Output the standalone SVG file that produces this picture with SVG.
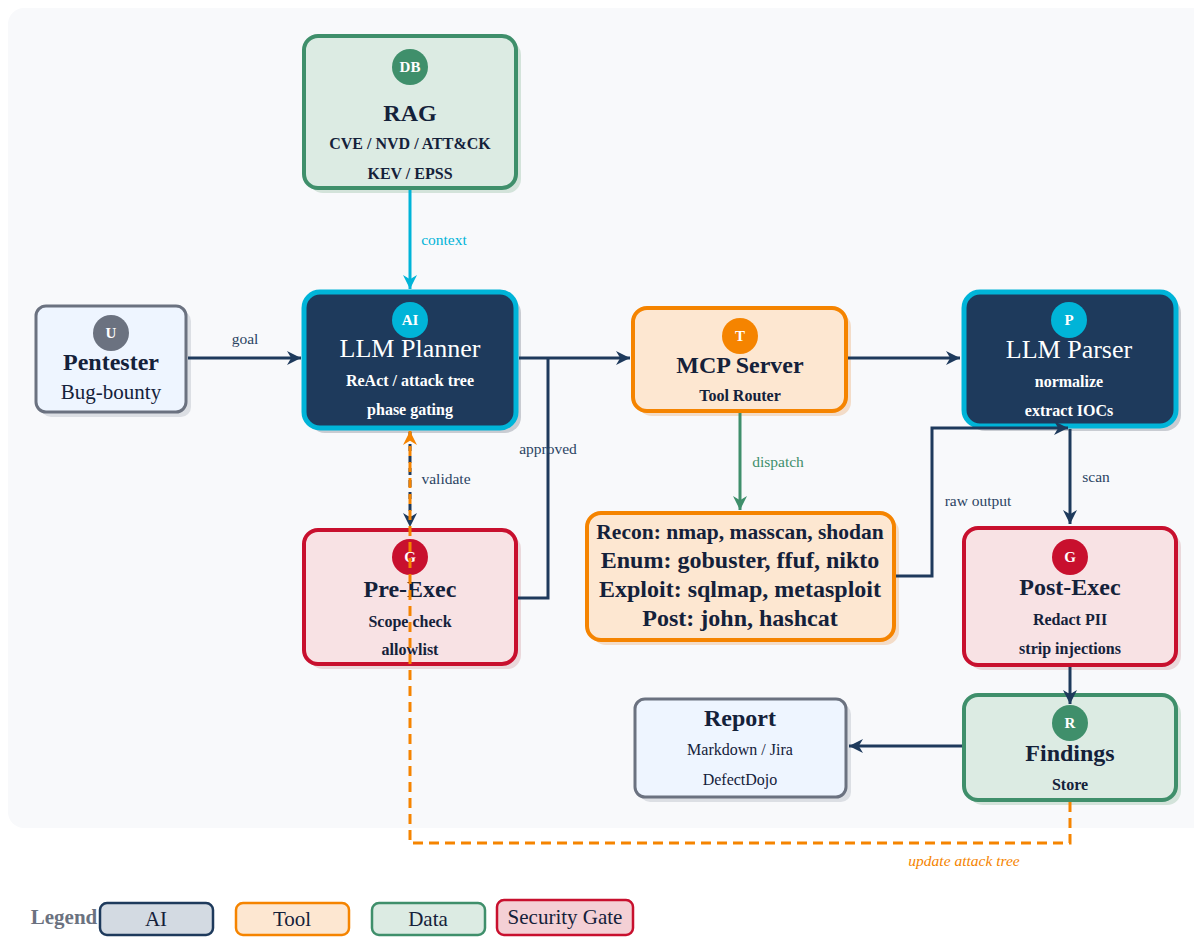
<svg xmlns="http://www.w3.org/2000/svg" width="1194" height="938" viewBox="0 0 1194 938">
<style>
text{font-family:"Liberation Serif","DejaVu Serif",serif;text-anchor:middle}
.t{font-size:24px;font-weight:bold;fill:#14213a}
.tw{font-size:26px;fill:#ffffff}
.s{font-size:16px;font-weight:bold;fill:#14213a}
.sw{font-size:16px;font-weight:bold;fill:#ffffff}
.r{font-size:16px;fill:#14213a}
.b{font-size:15px;font-weight:bold;fill:#ffffff}
.lbl{font-size:15.5px;fill:#2b4463}
.tool{font-size:24px;font-weight:bold;fill:#14213a}
.lg{font-size:21px;fill:#14213a}
.c{fill:none;stroke-width:3}
.navy{stroke:#1e3a5c}
</style>
<defs>
<marker id="an" viewBox="0 0 10 10" refX="10" refY="5" markerWidth="14" markerHeight="14" markerUnits="userSpaceOnUse" orient="auto"><path d="M0,0 L10,5 L0,10 L3,5 z" fill="#1e3a5c"/></marker>
<marker id="ac" viewBox="0 0 10 10" refX="10" refY="5" markerWidth="14" markerHeight="14" markerUnits="userSpaceOnUse" orient="auto"><path d="M0,0 L10,5 L0,10 L3,5 z" fill="#00b4d8"/></marker>
<marker id="ag" viewBox="0 0 10 10" refX="10" refY="5" markerWidth="14" markerHeight="14" markerUnits="userSpaceOnUse" orient="auto"><path d="M0,0 L10,5 L0,10 L3,5 z" fill="#3f8f6b"/></marker>
<marker id="ao" viewBox="0 0 10 10" refX="10" refY="5" markerWidth="14" markerHeight="14" markerUnits="userSpaceOnUse" orient="auto"><path d="M0,0 L10,5 L0,10 L3,5 z" fill="#f58400"/></marker>
</defs>
<rect x="0" y="0" width="1194" height="938" fill="#ffffff"/>
<rect x="8" y="8" width="1200" height="820" rx="16" fill="#f8f9fb"/>

<g id="rag">
<rect x="309" y="41" width="212" height="152" rx="14" fill="#d3e3da"/>
<rect x="304" y="36" width="212" height="152" rx="14" fill="#dcebe3" stroke="#3f8f6b" stroke-width="4"/>
<circle cx="410" cy="67" r="18" fill="#3f8f6b"/>
<text x="410" y="72" class="b">DB</text>
<text x="410" y="121" class="t">RAG</text>
<text x="410" y="149" class="s">CVE / NVD / ATT&amp;CK</text>
<text x="410" y="179" class="s">KEV / EPSS</text>
</g>

<g id="pentester">
<rect x="41" y="311" width="150" height="106" rx="10" fill="#dcdfe4"/>
<rect x="36" y="306" width="150" height="106" rx="10" fill="#eef5ff" stroke="#6b7280" stroke-width="3"/>
<circle cx="111" cy="333" r="18" fill="#6b7280"/>
<text x="111" y="338" class="b">U</text>
<text x="111" y="370" class="t">Pentester</text>
<text x="111" y="399" style="font-size:21px;fill:#14213a">Bug-bounty</text>
</g>

<g id="planner">
<rect x="309" y="297" width="212" height="136" rx="16" fill="#c9ccd2"/>
<rect x="304" y="292" width="212" height="136" rx="16" fill="#1e3a5c" stroke="#00b4d8" stroke-width="5"/>
<circle cx="410" cy="320" r="18" fill="#00b4d8"/>
<text x="410" y="325" class="b">AI</text>
<text x="410" y="357" class="tw">LLM Planner</text>
<text x="410" y="386" class="sw">ReAct / attack tree</text>
<text x="410" y="415" class="sw">phase gating</text>
</g>

<g id="mcp">
<rect x="638" y="313" width="213" height="103" rx="14" fill="#f3dcc8"/>
<rect x="633" y="308" width="213" height="103" rx="14" fill="#fde7d1" stroke="#f58400" stroke-width="4"/>
<circle cx="740" cy="336" r="18" fill="#f58400"/>
<text x="740" y="341" class="b">T</text>
<text x="740" y="373" class="t">MCP Server</text>
<text x="740" y="401" class="s">Tool Router</text>
</g>

<g id="parser">
<rect x="969" y="297" width="212" height="134" rx="16" fill="#c9ccd2"/>
<rect x="964" y="292" width="212" height="134" rx="16" fill="#1e3a5c" stroke="#00b4d8" stroke-width="5"/>
<circle cx="1069" cy="320" r="18" fill="#00b4d8"/>
<text x="1069" y="325" class="b">P</text>
<text x="1069" y="358" class="tw">LLM Parser</text>
<text x="1069" y="387" class="sw">normalize</text>
<text x="1069" y="416" class="sw">extract IOCs</text>
</g>

<g id="tools">
<rect x="592" y="518" width="307" height="127" rx="14" fill="#f3dcc8"/>
<rect x="587" y="513" width="307" height="127" rx="14" fill="#fde7d1" stroke="#f58400" stroke-width="4"/>
<text x="740" y="539" class="tool" style="font-size:21.5px">Recon: nmap, masscan, shodan</text>
<text x="740" y="568" class="tool">Enum: gobuster, ffuf, nikto</text>
<text x="740" y="597" class="tool">Exploit: sqlmap, metasploit</text>
<text x="740" y="626" class="tool">Post: john, hashcat</text>
</g>

<g id="preexec">
<rect x="309" y="535" width="212" height="134" rx="14" fill="#ead8db"/>
<rect x="304" y="530" width="212" height="134" rx="14" fill="#f8e2e4" stroke="#c8102e" stroke-width="4"/>
<circle cx="410" cy="557" r="18" fill="#c8102e"/>
<text x="410" y="562" class="b">G</text>
<text x="410" y="597" class="t">Pre-Exec</text>
<text x="410" y="627" class="s">Scope check</text>
<text x="410" y="655" class="s">allowlist</text>
</g>

<g id="postexec">
<rect x="969" y="533" width="212" height="137" rx="14" fill="#ead8db"/>
<rect x="964" y="528" width="212" height="137" rx="14" fill="#f8e2e4" stroke="#c8102e" stroke-width="4"/>
<circle cx="1070" cy="557" r="18" fill="#c8102e"/>
<text x="1070" y="562" class="b">G</text>
<text x="1070" y="595" class="t">Post-Exec</text>
<text x="1070" y="625" class="s">Redact PII</text>
<text x="1070" y="654" class="s">strip injections</text>
</g>

<g id="findings">
<rect x="969" y="700" width="212" height="105" rx="14" fill="#d3e3da"/>
<rect x="964" y="695" width="212" height="105" rx="14" fill="#dcebe3" stroke="#3f8f6b" stroke-width="4"/>
<circle cx="1070" cy="723" r="18" fill="#3f8f6b"/>
<text x="1070" y="728" class="b">R</text>
<text x="1070" y="761" class="t">Findings</text>
<text x="1070" y="790" class="s">Store</text>
</g>

<g id="report">
<rect x="640" y="704" width="211" height="98" rx="10" fill="#dcdfe4"/>
<rect x="635" y="699" width="211" height="98" rx="10" fill="#eef5ff" stroke="#6b7280" stroke-width="3"/>
<text x="740" y="726" class="t">Report</text>
<text x="740" y="755" class="r">Markdown / Jira</text>
<text x="740" y="785" class="r">DefectDojo</text>
</g>

<g id="connectors">
<path d="M410,190 L410,289" class="c" stroke="#00b4d8" marker-end="url(#ac)"/>
<text x="444" y="245" style="font-size:15.5px;fill:#00b4d8">context</text>
<path d="M188,358 L301,358" class="c navy" marker-end="url(#an)"/>
<text x="245" y="344" class="lbl">goal</text>
<path d="M519,358 L630,358" class="c navy" marker-end="url(#an)"/>
<path d="M518,598 L548,598 L548,358" class="c navy"/>
<text x="548" y="454" class="lbl">approved</text>
<path d="M848,358 L960,358" class="c navy" marker-end="url(#an)"/>
<path d="M740,413 L740,510" class="c" stroke="#3f8f6b" marker-end="url(#ag)"/>
<text x="778" y="467" style="font-size:15.5px;fill:#3f8f6b">dispatch</text>
<path d="M896,576 L932,576 L932,428 L1068,428" class="c navy" marker-end="url(#an)"/>
<text x="978" y="506" class="lbl">raw output</text>
<path d="M1070,429 L1070,524" class="c navy" marker-end="url(#an)"/>
<text x="1096" y="482" class="lbl">scan</text>
<path d="M1070,667 L1070,704" class="c navy" marker-end="url(#an)"/>
<path d="M962,746 L849,746" class="c navy" marker-end="url(#an)"/>
<path d="M410,432 L410,527" class="c navy" stroke-dasharray="7 5" marker-end="url(#an)"/>
<text x="446" y="484" class="lbl">validate</text>
<path d="M1070,802 L1070,843 L410,843 L410,431" class="c" stroke="#f58400" stroke-dasharray="10 6" marker-end="url(#ao)"/>
<text x="964" y="866" style="font-size:15.5px;font-style:italic;fill:#f58400">update attack tree</text>
</g>

<g id="legend">
<text x="64" y="924" style="font-size:21px;font-weight:bold;fill:#6b7280">Legend</text>
<rect x="100" y="903" width="113" height="32" rx="7" fill="#d3dae2" stroke="#1e3a5c" stroke-width="2.5"/>
<text x="156" y="926" class="lg">AI</text>
<rect x="236" y="903" width="113" height="32" rx="7" fill="#fde7d1" stroke="#f58400" stroke-width="2.5"/>
<text x="292" y="926" class="lg">Tool</text>
<rect x="372" y="903" width="113" height="32" rx="7" fill="#dcebe3" stroke="#3f8f6b" stroke-width="2.5"/>
<text x="428" y="926" class="lg">Data</text>
<rect x="497" y="900" width="136" height="35" rx="7" fill="#f4d0d5" stroke="#c8102e" stroke-width="2.5"/>
<text x="565" y="924" class="lg">Security Gate</text>
</g>
</svg>
